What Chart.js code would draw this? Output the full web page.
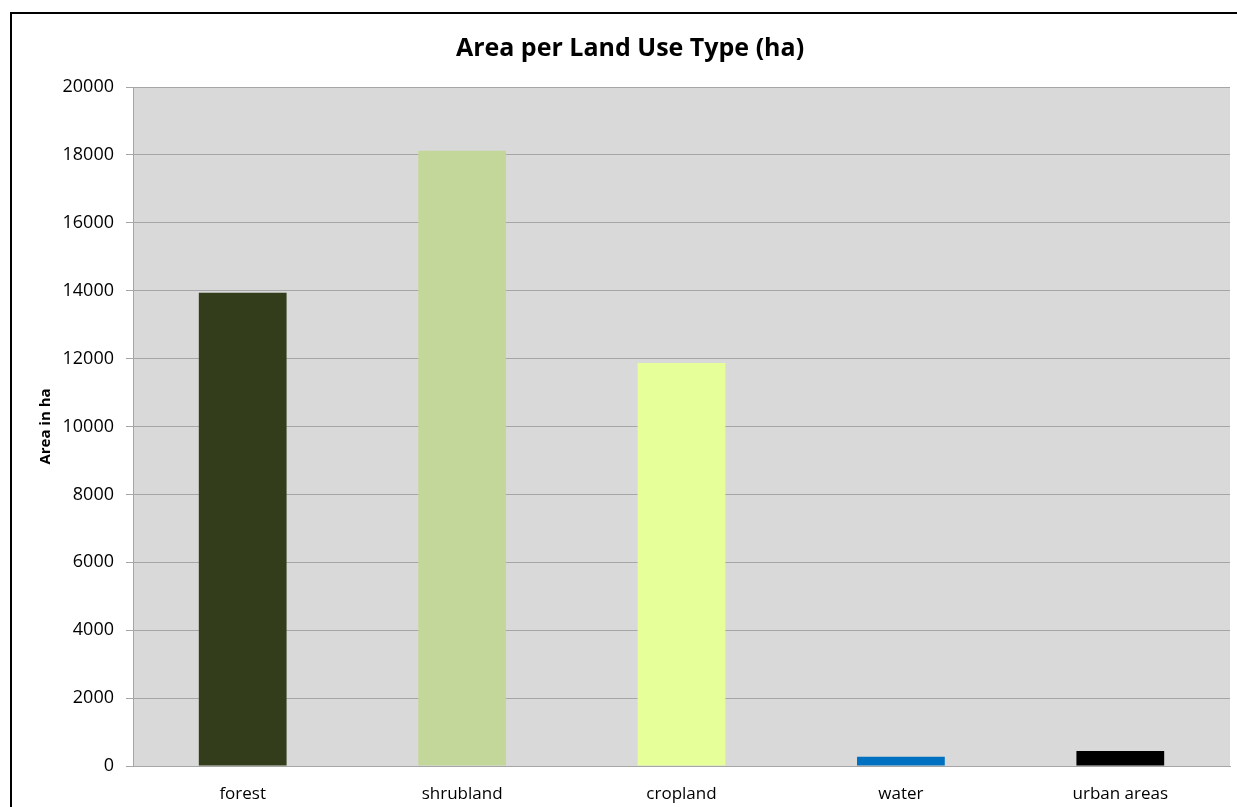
<!DOCTYPE html>
<html>
<head>
<meta charset="utf-8">
<script src="https://cdn.jsdelivr.net/npm/chart.js@4.4.1/dist/chart.umd.min.js"></script>
<style>
  body { margin: 0; background: #fff; overflow: hidden; }
  #frame { position: absolute; left: 10px; top: 12px; border: 2px solid #000; width: 1236px; height: 800px; }
</style>
</head>
<body>
<div id="frame"><canvas id="chart1" width="1236" height="800"></canvas></div>
<script>
// valores
var categorias = ['forest', 'shrubland', 'cropland', 'water', 'urban areas'];
var areaHa = [13940, 18120, 11870, 275, 440];
var colores = ['#333d1b', '#c4d79b', '#e6ff99', '#0070c0', '#000000'];

// fondo gris del area del grafico
var fondoGris = {
  id: 'fondoGris',
  beforeDraw: function (chart) {
    var a = chart.chartArea;
    var c = chart.ctx;
    c.save();
    c.fillStyle = '#d9d9d9';
    c.fillRect(a.left, a.top, a.right - a.left, a.bottom - a.top);
    c.restore();
  }
};

var ctx1 = document.getElementById('chart1').getContext('2d');
var chart1 = new Chart(ctx1, {
  type: 'bar',
  data: {
    labels: categorias,
    datasets: [{
      label: 'Area',
      data: areaHa,
      backgroundColor: colores,
      borderWidth: 0,
      barPercentage: 0.4,
      categoryPercentage: 1
    }]
  },
  options: {
    responsive: false,
    animation: false,
    layout: { padding: 0 },
    plugins: {
      legend: { display: false },
      tooltip: { enabled: false },
      title: {
        display: true,
        text: 'Area per Land Use Type (ha)',
        color: '#000',
        font: { family: 'Open Sans', size: 25, weight: 'bold' },
        padding: { top: 20, bottom: 23 }
      }
    },
    scales: {
      x: {
        grid: { display: false },
        border: { display: true, color: '#a6a6a6', width: 1 },
        ticks: { color: '#000', padding: 10, font: { family: 'Open Sans', size: 17 } },
        afterFit: function (s) { s.height = 48; }
      },
      y: {
        min: 0,
        max: 20000,
        ticks: {
          stepSize: 2000,
          color: '#000',
          padding: 12,
          font: { family: 'Open Sans', size: 18 },
          callback: function (v) { return String(v); }
        },
        grid: { color: '#a6a6a6', tickLength: 7, lineWidth: 1 },
        border: { display: true, color: '#a6a6a6', width: 1 },
        title: {
          display: true,
          text: 'Area in ha',
          color: '#000',
          font: { family: 'Open Sans', size: 15, weight: 'bold' },
          padding: { top: 25, bottom: 0 }
        },
        afterFit: function (s) { s.width = 121; }
      },
      // eje vacio a la derecha, solo para dejar margen
      margenDer: {
        position: 'right',
        grid: { display: false },
        border: { display: false },
        ticks: { display: false },
        afterFit: function (s) { s.width = 18; }
      }
    }
  },
  plugins: [fondoGris]
});
</script>
</body>
</html>
